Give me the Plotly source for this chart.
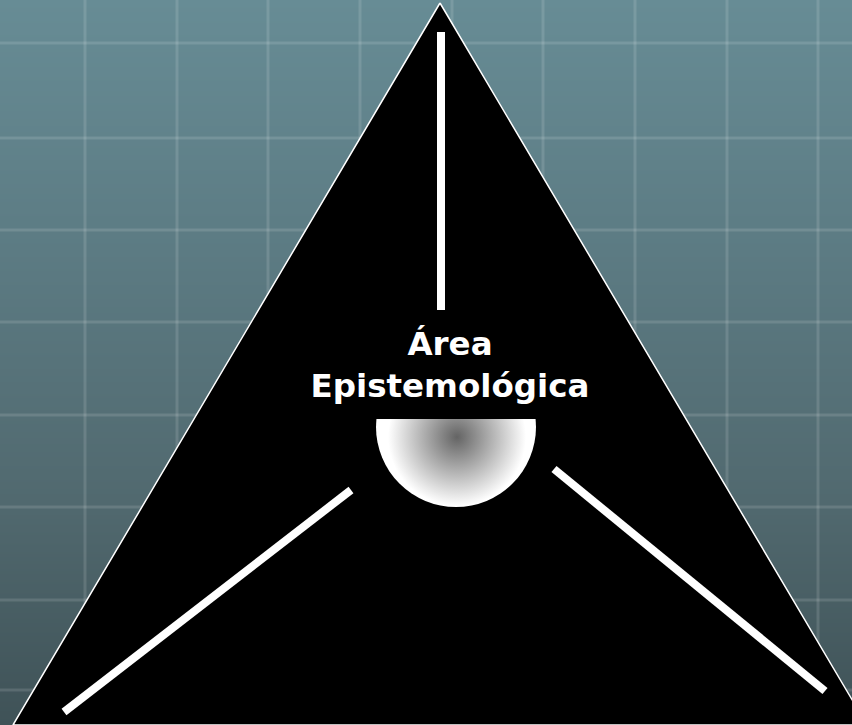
import plotly.graph_objects as go

# ---- data (in pixel-like diagram units) ----
bg_rows = [0, 250, 500, 725]
bg_colors = ["#678c95", "#5c7b83", "#51696f", "#3f5257"]

grid_x = [85, 177, 268, 360, 452, 543, 635, 727, 818]
grid_y = [43, 138, 230, 322, 415, 507, 600, 690]

tri_x = [440, 13, 867, 440]
tri_y = [3, 725, 725, 3]

spoke_top_x = [441, 441]
spoke_top_y = [32, 310]
spoke_left_x = [351, 64]
spoke_left_y = [490, 712]
spoke_right_x = [554, 825]
spoke_right_y = [469, 691]

bowl_center = (456, 427)
bowl_radius = 80
bowl_top = 419
shade_center = (457, 437)

label_text = "Área<br>Epistemológica"
label_pos = (450, 368)

W, H = 852, 725

fig = go.Figure()

# background gradient
ys = list(range(0, H + 1, 5))
fig.add_trace(go.Heatmap(
    x=[0, W], y=ys, z=[[y, y] for y in ys],
    colorscale=[[r / H, c] for r, c in zip(bg_rows, bg_colors)],
    zmin=0, zmax=H, showscale=False, hoverinfo="skip", zsmooth="best",
))

# grid lines
gx, gy = [], []
for x in grid_x:
    gx += [x, x, None]
    gy += [0, H, None]
for y in grid_y:
    gx += [0, W, None]
    gy += [y, y, None]
fig.add_trace(go.Scatter(x=gx, y=gy, mode="lines",
                         line=dict(color="rgba(255,255,255,0.13)", width=3),
                         hoverinfo="skip"))

# triangle
fig.add_trace(go.Scatter(x=tri_x, y=tri_y, mode="lines", fill="toself",
                         fillcolor="black", line=dict(color="white", width=1.5),
                         hoverinfo="skip"))

# spokes
for sx, sy in [(spoke_top_x, spoke_top_y), (spoke_left_x, spoke_left_y),
               (spoke_right_x, spoke_right_y)]:
    fig.add_trace(go.Scatter(x=sx, y=sy, mode="lines",
                             line=dict(color="white", width=8), hoverinfo="skip"))

# bowl: white disc + radial shading, top cut by a black band
fig.add_trace(go.Scatter(x=[bowl_center[0]], y=[bowl_center[1]], mode="markers",
                         marker=dict(size=2 * bowl_radius, color="white",
                                     line=dict(width=0)), hoverinfo="skip"))
fig.add_trace(go.Scatter(x=[shade_center[0]], y=[shade_center[1]], mode="markers",
                         marker=dict(size=138, color="white",
                                     gradient=dict(type="radial", color="#646464"),
                                     line=dict(width=0)), hoverinfo="skip"))
bx0, bx1 = bowl_center[0] - bowl_radius - 6, bowl_center[0] + bowl_radius + 6
fig.add_trace(go.Scatter(x=[bx0, bx1, bx1, bx0, bx0],
                         y=[330, 330, bowl_top, bowl_top, 330],
                         mode="lines", fill="toself", fillcolor="black",
                         line=dict(color="black", width=0), hoverinfo="skip"))

# label
fig.add_trace(go.Scatter(x=[label_pos[0]], y=[label_pos[1]], mode="text",
                         text=[label_text], textposition="middle center",
                         textfont=dict(family="DejaVu Sans", size=32.5, color="white",
                                       weight="bold"),
                         hoverinfo="skip"))

fig.update_layout(
    width=W, height=H, margin=dict(l=0, r=0, t=0, b=0),
    showlegend=False, paper_bgcolor="#51696f", plot_bgcolor="#51696f",
    xaxis=dict(range=[0, W], visible=False, fixedrange=True),
    yaxis=dict(range=[H, 0], visible=False, fixedrange=True),
)

fig.write_html("out.html", config={"displayModeBar": False},
               post_script="document.body.style.margin='0';document.body.style.overflow='hidden';")
